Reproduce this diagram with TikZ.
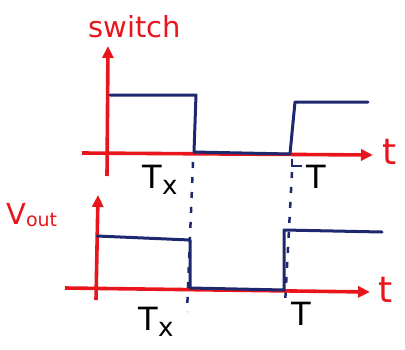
\documentclass[tikz,border=0pt]{standalone}
\usepackage{fontspec}
\setmainfont{DejaVu Sans}
\usetikzlibrary{arrows.meta}
\definecolor{axred}{RGB}{232,22,28}
\definecolor{sigblue}{RGB}{30,40,110}
\tikzset{
  axis/.style={axred, line width=3.6pt, -{Triangle[length=12pt,width=11pt]}},
  sig/.style={sigblue, line width=3pt, line join=round, line cap=round},
  guide/.style={sigblue, line width=2.5pt, dash pattern=on 6pt off 9pt},
  redlbl/.style={axred, font=\fontsize{29}{31}\selectfont},
  tlbl/.style={axred, font=\fontsize{36}{38}\selectfont},
  blklbl/.style={black, font=\fontsize{32}{34}\selectfont},
}
\newcommand{\txlabel}{T\raisebox{-0.35ex}{\fontsize{26}{28}\selectfont x}}
\begin{document}
\begin{tikzpicture}[x=1pt,y=-1pt]
\useasboundingbox (0,0) rectangle (405,349);
% top plot
\coordinate (a1o) at (82,153);
\coordinate (a1e) at (373,155);
\coordinate (v1b) at (107,176);
\coordinate (v1t) at (108,46);
\draw[axis] (a1o) -- (a1e);
\draw[axis] (v1b) -- (v1t);
\node[redlbl] (sw) at (135,27) {switch};
\node[tlbl] (t1) at (390,152) {t};
\draw[sig] (110,95) -- (196,95) -- (194,152) -- (290,154) -- (295,102) -- (368,102);
\node[blklbl] (tx1) at (160,180) {\txlabel};
\node[blklbl] (T1) at (316,177) {T};
\draw[sigblue, line width=1.8pt] (292,159) -- (292,166) -- (302,166);
% dashed guides
\draw[guide] (193,162) -- (187,312);
\draw[guide] (292,172) -- (285,305);
% bottom plot
\coordinate (a2o) at (65,288);
\coordinate (a2e) at (370,292);
\coordinate (v2b) at (96,300);
\coordinate (v2t) at (98,195);
\draw[axis] (a2o) -- (a2e);
\draw[axis] (v2b) -- (v2t);
\node[redlbl, anchor=west, inner sep=0pt] (vo) at (6,215) {V\raisebox{-0.1ex}{\fontsize{19}{20}\selectfont out}};
\node[tlbl] (t2) at (386,290) {t};
\draw[sig] (97,236) -- (190,240) -- (190,288) -- (284,290) -- (284,230) -- (382,232);
\node[blklbl] (tx2) at (156,322) {\txlabel};
\node[blklbl] (T2) at (301,314) {T};
\end{tikzpicture}
\end{document}
